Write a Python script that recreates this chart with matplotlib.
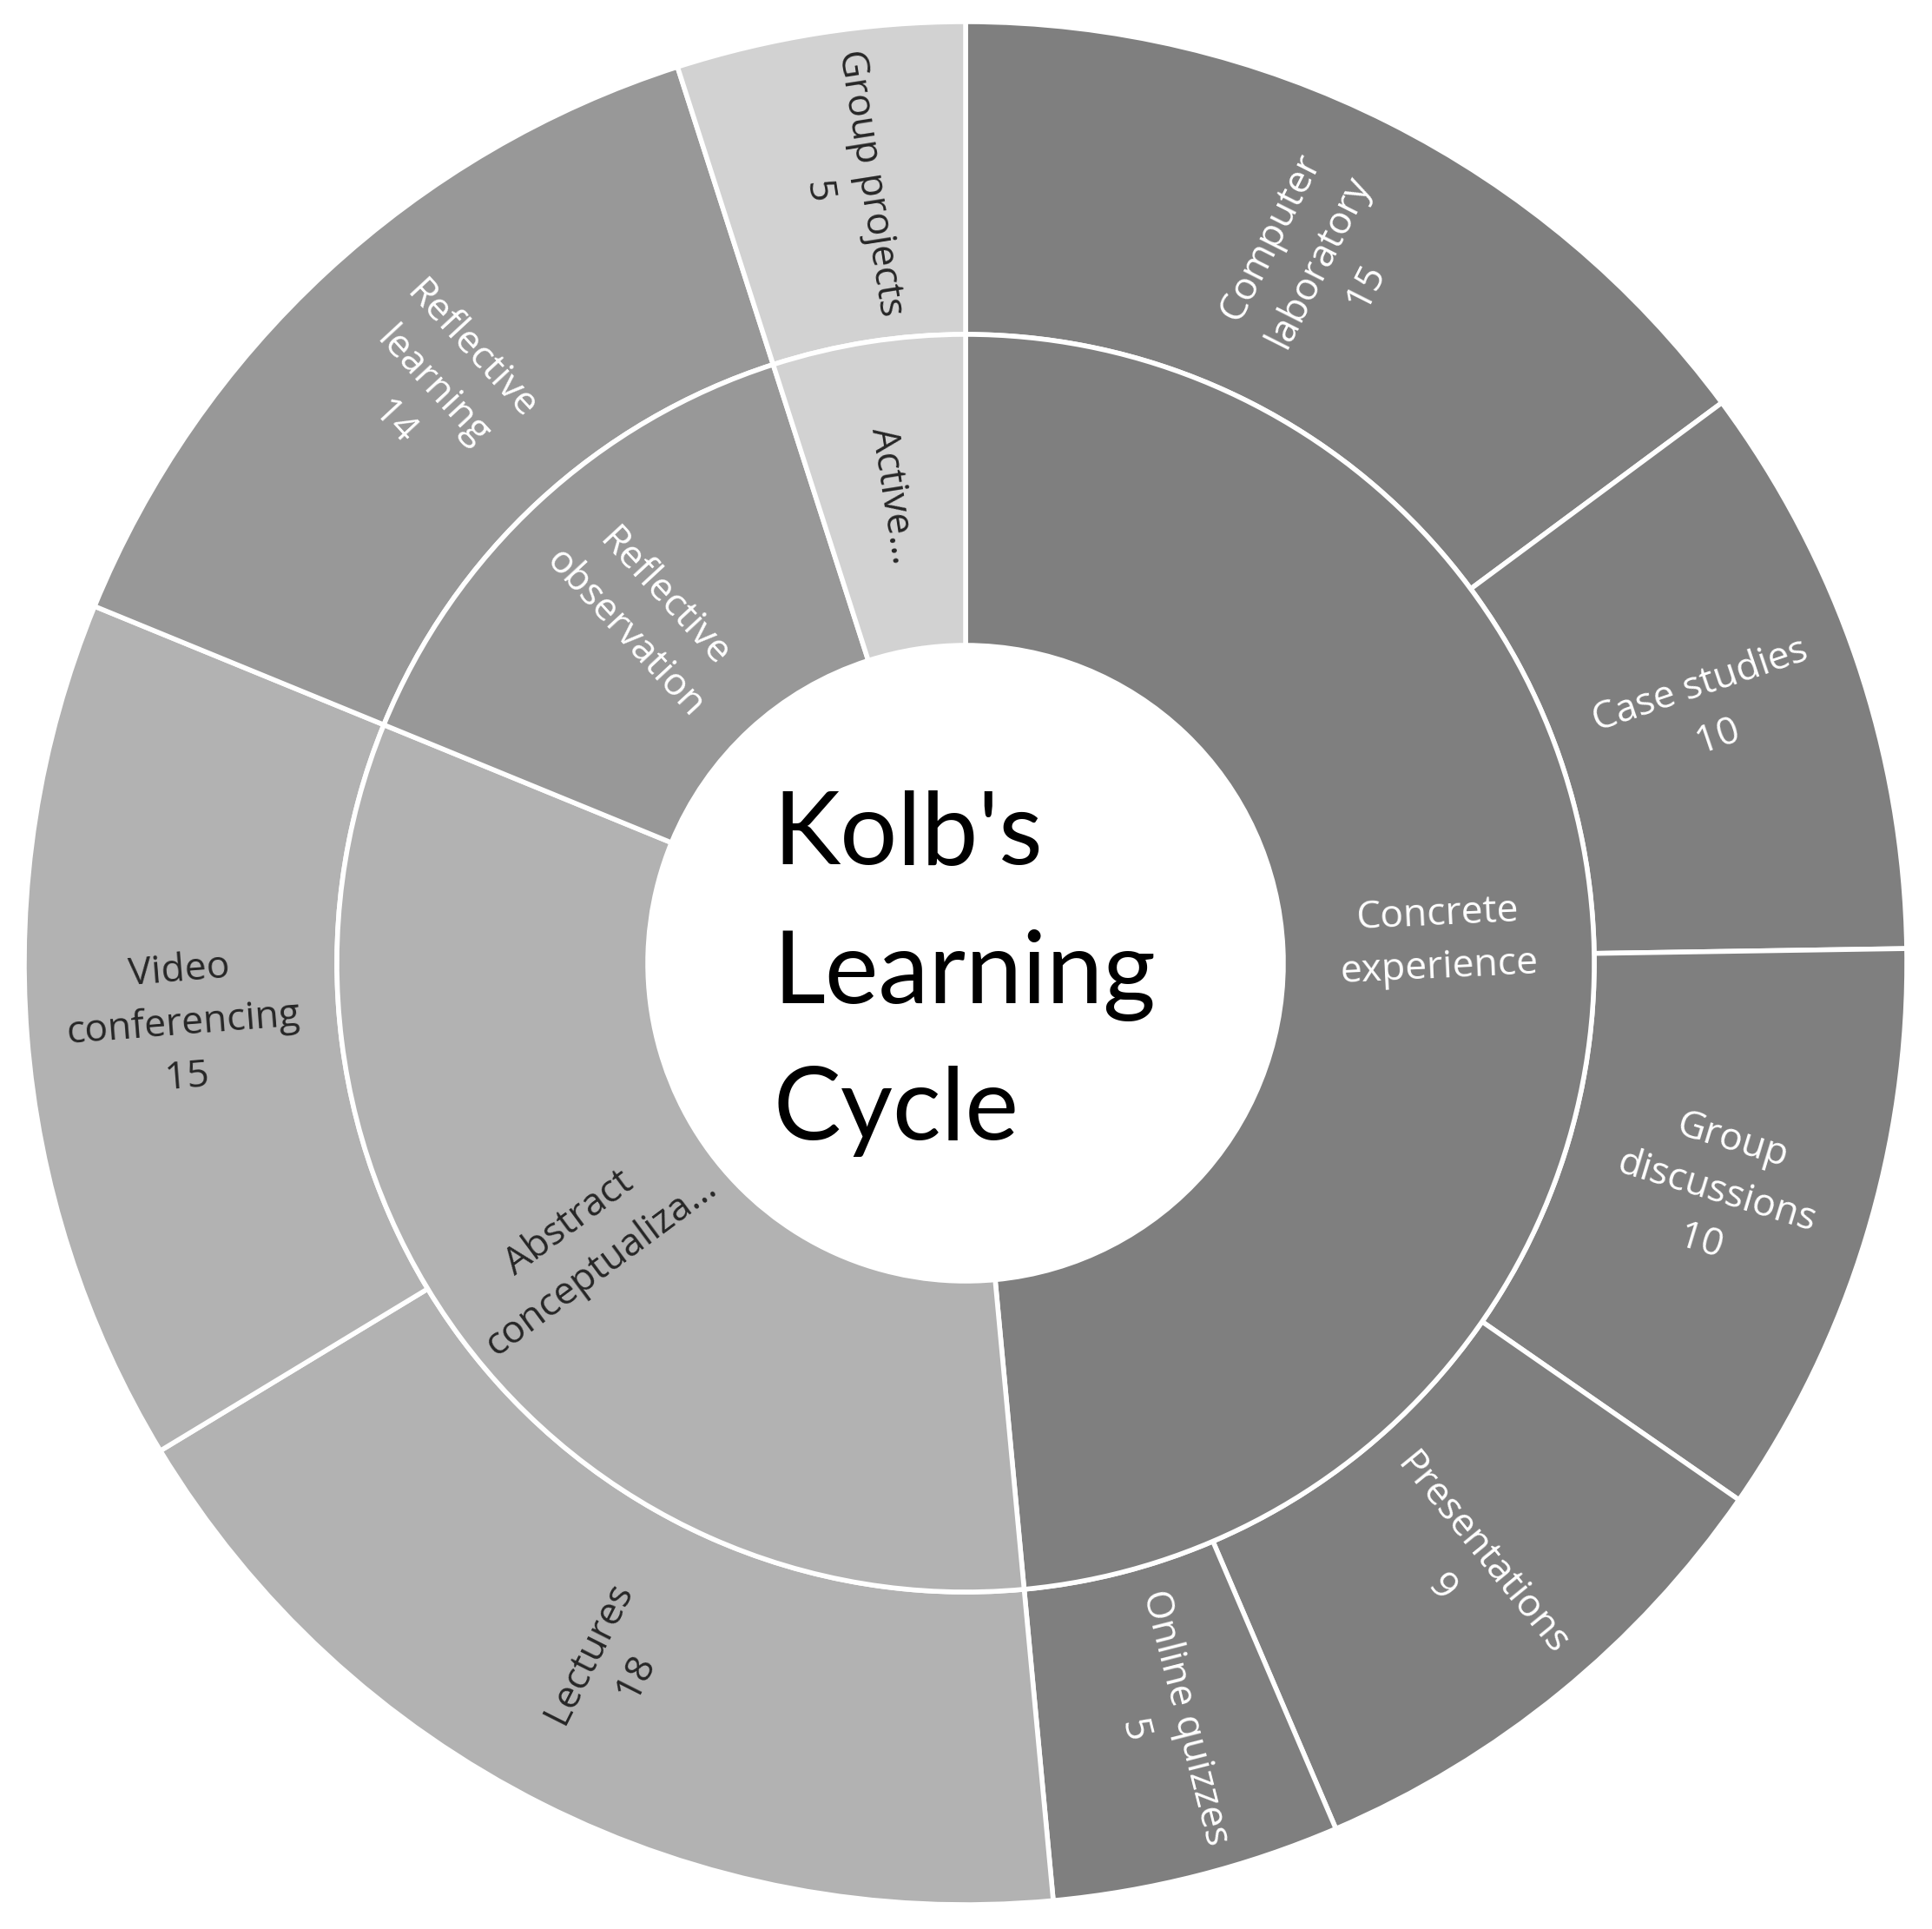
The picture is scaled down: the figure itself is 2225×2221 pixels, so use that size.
import matplotlib
matplotlib.use("Agg")
import matplotlib.pyplot as plt
import numpy as np

# ---- data ----
parents = ["Concrete\nexperience", "Abstract\nconceptualiza...", "Reflective\nobservation", "Active..."]
children = ["Computer\nlaboratory", "Case studies", "Group\ndiscussions", "Presentations", "Online quizzes",
            "Lectures", "Video\nconferencing",
            "Reflective\nlearning",
            "Group projects"]
child_values = [15, 10, 10, 9, 5, 18, 15, 14, 5]
child_parent = [0, 0, 0, 0, 0, 1, 1, 2, 3]
parent_colors = ["#7f7f7f", "#b2b2b2", "#989898", "#d2d2d2"]
parent_text_colors = ["white", "#262626", "white", "#262626"]
center_title = ["Kolb's", "Learning", "Cycle"]

parent_values = [sum(v for v, p in zip(child_values, child_parent) if p == i) for i in range(len(parents))]

W, H = 2225, 2221
fig = plt.figure(figsize=(W / 100, H / 100), dpi=100)
ax = fig.add_axes([0, 0, 1, 1])
ax.set_xlim(0, W)
ax.set_ylim(0, H)
ax.set_aspect("equal")
ax.axis("off")

cx, cy = 1112, H - 1109
R_out, R_mid, R_in = 1084, 724, 366
lw = 4

child_colors = [parent_colors[p] for p in child_parent]
ax.pie(child_values, radius=R_out, center=(cx, cy), startangle=90, counterclock=False,
       colors=child_colors, wedgeprops=dict(width=R_out - R_mid, edgecolor="white", linewidth=lw))
ax.pie(parent_values, radius=R_mid, center=(cx, cy), startangle=90, counterclock=False,
       colors=parent_colors, wedgeprops=dict(width=R_mid - R_in, edgecolor="white", linewidth=lw))
ax.set_xlim(0, W)
ax.set_ylim(0, H)

font = "Open Sans"
fs = 32


def place_labels(values, labels, radius, tcolors):
    total = sum(values)
    cum = np.cumsum([0] + list(values))
    for i, (v, lab) in enumerate(zip(values, labels)):
        mid = (cum[i] + cum[i + 1]) / 2
        theta = 90 - 360 * mid / total
        th = np.deg2rad(theta)
        x = cx + radius * np.cos(th)
        y = cy + radius * np.sin(th)
        rot = (theta + 180) % 360 - 180
        if rot > 90:
            rot -= 180
        elif rot < -90:
            rot += 180
        ax.text(x, y, lab, rotation=rot, rotation_mode="anchor", ha="center", va="center",
                multialignment="center", fontsize=fs, family=font, color=tcolors[i], linespacing=1.5)


child_labels = [f"{c}\n{v}" for c, v in zip(children, child_values)]
place_labels(child_values, child_labels, (R_out + R_mid) / 2,
             [parent_text_colors[p] for p in child_parent])
place_labels(parent_values, parents, (R_mid + R_in) / 2, parent_text_colors)

baselines = [H - 995, H - 1155, H - 1312]
for line, yb in zip(center_title, baselines):
    ax.text(890, yb, line, ha="left", va="baseline", fontsize=84, family="Lato", color="black")

fig.savefig("out.png", dpi=100, facecolor="white")
